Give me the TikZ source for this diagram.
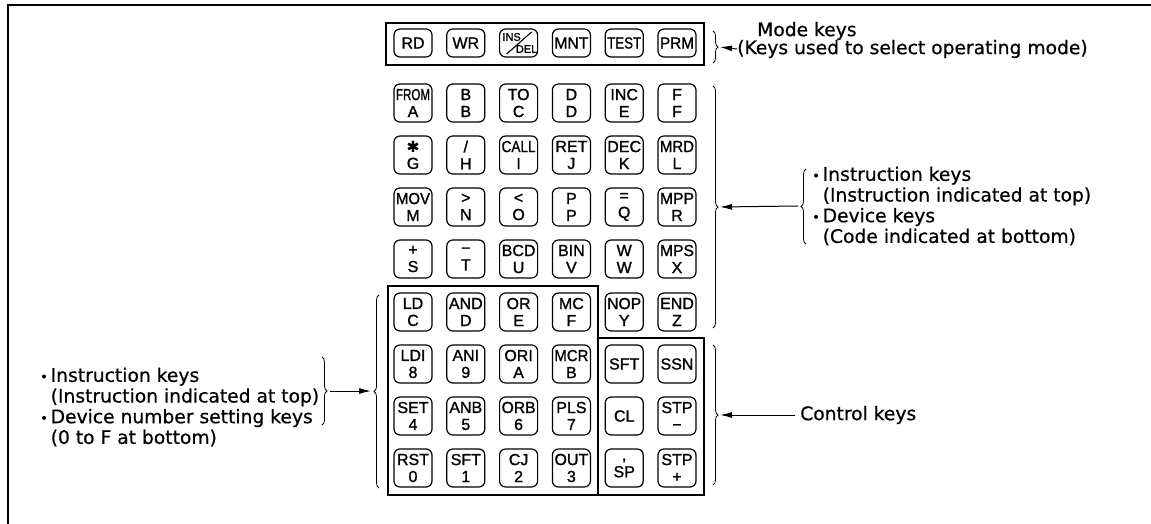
\documentclass[tikz,border=0pt]{standalone}
\usepackage{fontspec}
\setmainfont[FakeBold=0.6]{DejaVu Sans}
\newfontfamily\keyfont[FakeBold=1.2]{Liberation Sans}
\usetikzlibrary{positioning,arrows.meta,decorations.pathreplacing}

% key legends are squeezed when they are wider than the cap
\newcommand{\kl}[1]{\sbox0{#1}\ifdim\wd0>34pt\resizebox{34pt}{\height}{#1}\else#1\fi}
\newcommand{\kast}{{\rmfamily\fontsize{15}{15}\selectfont\char"2731}}
\newcommand{\kslash}{/}
\newcommand{\kminus}{\char"2212}
\newcommand{\kcomma}{,}
\newcommand{\itm}{\makebox[10.5pt][l]{\raisebox{0.5pt}{\fontsize{13}{13}\selectfont\char"2022}}}

\begin{document}
\begin{tikzpicture}
  [x=1pt,y=-1pt,
   key/.style={draw,rounded corners=6pt,line width=1.2pt,minimum width=38pt,
     minimum height=38pt,inner sep=0pt,align=center,
     font=\keyfont\fontsize{16}{17}\selectfont},
   modekey/.style={key,minimum height=28pt},
   keygroup/.style={line width=1.9pt},
   brc/.style={decorate,decoration={brace,amplitude=5pt},line width=0.8pt},
   note/.style={inner sep=0pt,anchor=west,align=left,
     font=\fontsize{18.7}{20.7}\selectfont},
   arr/.style={-{Latex[length=12pt,width=6pt]},line width=1pt}]

  \useasboundingbox (0,0) rectangle (1151,524);
  \draw[line width=1.8pt] (8,524) -- (8,5) -- (1151,5);

  % mode keys
  \foreach \t/\c in {RD/1,WR/2,MNT/4,TEST/5,PRM/6}
    \node[modekey] (k1\c) at ({360.2+52.8*\c},43) {\kl{\t}};
  \node[modekey] (k13) at (518.6,43) {};
  \node[font=\keyfont\fontsize{11}{11}\selectfont,inner sep=0pt] (ins)
    at ([shift={(-7,-6)}]k13.center) {INS};
  \node[font=\keyfont\fontsize{11}{11}\selectfont,inner sep=0pt] (del)
    at ([shift={(8,6)}]k13.center) {DEL};
  \draw[line width=1.1pt] ([shift={(-12,11)}]k13.center) -- ([shift={(13,-11)}]k13.center);

  % instruction / device keys
  \foreach \yy/\row [count=\r from 2] in {
      103/{FROM/A,B/B,TO/C,D/D,INC/E,F/F},
      155/{\kast/G,\kslash/H,CALL/I,RET/J,DEC/K,MRD/L},
      207/{MOV/M,>/N,</O,P/P,=/Q,MPP/R},
      259/{+/S,\kminus/T,BCD/U,BIN/V,W/W,MPS/X},
      312/{LD/C,AND/D,OR/E,MC/F,NOP/Y,END/Z},
      364/{LDI/8,ANI/9,ORI/A,MCR/B},
      416/{SET/4,ANB/5,ORB/6,PLS/7},
      468/{RST/0,SFT/1,CJ/2,OUT/3,\kcomma/SP,STP/+}}
    \foreach \t/\b [count=\c] in \row
      \node[key] (k\r\c) at ({360.2+52.8*\c},\yy) {\kl{\t}\\\kl{\b}};

  % control keys
  \node[key] (k75) at (624.2,364) {\kl{SFT}};
  \node[key] (k76) at (677,364) {\kl{SSN}};
  \node[key] (k85) at (624.2,416) {\kl{CL}};
  \node[key] (k86) at (677,416) {\kl{STP}\\\kl{\kminus}};

  % key groups
  \draw[keygroup] (386,23) rectangle (704,65);
  \draw[keygroup] (388,286) -- (598,286) -- (598,338) -- (704,338) -- (704,495)
    -- (388,495) -- cycle (598,338) -- (598,495);

  % braces
  \draw[brc] (713,31) -- (713,63);
  \draw[brc] (713,86) -- (713,328);
  \draw[brc] (713,345) -- (713,485);
  \draw[brc] (806,244) -- (806,169);
  \draw[brc] (322,357) -- (322,425);
  \draw[brc] (379,488) -- (379,295);
  \coordinate (modetip) at (720,47);
  \coordinate (insttip) at (720,207);
  \coordinate (ctrltip) at (720,415);
  \coordinate (instnote) at (798,206);
  \coordinate (devnote) at (330,391);
  \coordinate (devtip) at (371,391);

  \node[note] (modett) at (757,31) {Mode keys};
  \node[note] (modesub) at (737,49) {(Keys used to select operating mode)};
  \node[note] (instnt) at (812,206) {\itm Instruction keys\\
    \hspace*{10.5pt}(Instruction indicated at top)\\
    \itm Device keys\\
    \hspace*{10.5pt}(Code indicated at bottom)};
  \node[note] (ctrl) at (800,415) {Control keys};
  \node[note] (devnt) at (40,407) {\itm Instruction keys\\
    \hspace*{10.5pt}(Instruction indicated at top)\\
    \itm Device number setting keys\\
    \hspace*{10.5pt}(0 to F at bottom)};

  \draw[arr] (modesub.west) -- (modetip);
  \draw[arr] (instnote) -- (insttip);
  \draw[arr,shorten <=5pt] (ctrl.west) -- (ctrltip);
  \draw[arr] (devnote) -- (devtip);
\end{tikzpicture}
\end{document}
